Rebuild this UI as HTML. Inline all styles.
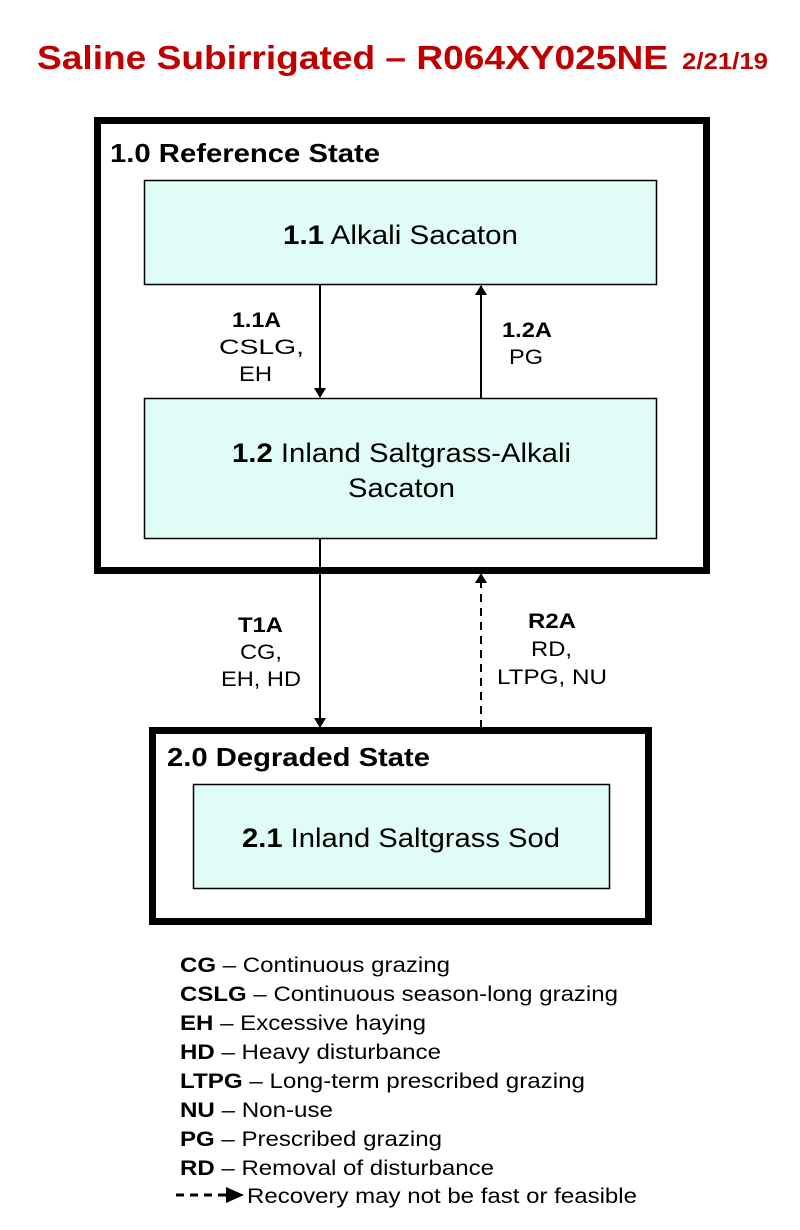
<!DOCTYPE html>
<html><head><style>
html,body{margin:0;padding:0;background:#fff;}
svg{display:block;}
text{font-family:"Liberation Sans",Arial,sans-serif;fill:#000;}
</style></head><body>
<svg width="800" height="1230" viewBox="0 0 800 1230" xmlns="http://www.w3.org/2000/svg">
<defs>
<marker id="ah" markerWidth="10" markerHeight="12" refX="9" refY="6" orient="auto" markerUnits="userSpaceOnUse">
<path d="M0,0 L10,6 L0,12 Z" fill="#000"/></marker>
</defs>
<text x="37" y="69" font-weight="bold" font-size="33" style="fill:#c00000" textLength="631" lengthAdjust="spacingAndGlyphs">Saline Subirrigated – R064XY025NE</text>
<text x="682" y="69" font-weight="bold" font-size="23" style="fill:#c00000" textLength="86" lengthAdjust="spacingAndGlyphs">2/21/19</text>

<rect x="97.5" y="120.5" width="609" height="450" fill="none" stroke="#000" stroke-width="7"/>
<text x="110" y="162" font-size="26" font-weight="bold" textLength="270" lengthAdjust="spacingAndGlyphs">1.0 Reference State</text>
<rect x="144.5" y="180.5" width="512" height="104" fill="#e0fcf6" stroke="#000" stroke-width="1.5"/>
<text x="283" y="244" font-size="27" textLength="235" lengthAdjust="spacingAndGlyphs"><tspan font-weight="bold">1.1</tspan> Alkali Sacaton</text>
<rect x="144.5" y="398.5" width="512" height="140" fill="#e0fcf6" stroke="#000" stroke-width="1.5"/>
<text x="232" y="462" font-size="27" textLength="339" lengthAdjust="spacingAndGlyphs"><tspan font-weight="bold">1.2</tspan> Inland Saltgrass-Alkali</text>
<text x="348" y="497" font-size="27" textLength="107" lengthAdjust="spacingAndGlyphs">Sacaton</text>

<line x1="320" y1="285" x2="320" y2="397" stroke="#000" stroke-width="2" marker-end="url(#ah)"/>
<line x1="481" y1="398" x2="481" y2="286" stroke="#000" stroke-width="2" marker-end="url(#ah)"/>
<g font-size="21">
<text x="232" y="327" font-weight="bold" textLength="49" lengthAdjust="spacingAndGlyphs">1.1A</text>
<text x="219" y="354" textLength="85" lengthAdjust="spacingAndGlyphs">CSLG,</text>
<text x="239" y="381" textLength="33" lengthAdjust="spacingAndGlyphs">EH</text>
<text x="502" y="337" font-weight="bold" textLength="50" lengthAdjust="spacingAndGlyphs">1.2A</text>
<text x="509" y="364" textLength="34" lengthAdjust="spacingAndGlyphs">PG</text>
<text x="238" y="632" font-weight="bold" textLength="45" lengthAdjust="spacingAndGlyphs">T1A</text>
<text x="240" y="659" textLength="42" lengthAdjust="spacingAndGlyphs">CG,</text>
<text x="221" y="686" textLength="80" lengthAdjust="spacingAndGlyphs">EH, HD</text>
<text x="528" y="628" font-weight="bold" textLength="48" lengthAdjust="spacingAndGlyphs">R2A</text>
<text x="531" y="656" textLength="41" lengthAdjust="spacingAndGlyphs">RD,</text>
<text x="497" y="684" textLength="110" lengthAdjust="spacingAndGlyphs">LTPG, NU</text>
</g>

<line x1="320" y1="539" x2="320" y2="727" stroke="#000" stroke-width="2" marker-end="url(#ah)"/>
<line x1="481" y1="728" x2="481" y2="574" stroke="#000" stroke-width="2" stroke-dasharray="8,6" marker-end="url(#ah)"/>

<rect x="152.5" y="730.5" width="496" height="191" fill="none" stroke="#000" stroke-width="7"/>
<text x="167" y="766" font-size="26" font-weight="bold" textLength="263" lengthAdjust="spacingAndGlyphs">2.0 Degraded State</text>
<rect x="193.5" y="784.5" width="416" height="104" fill="#e0fcf6" stroke="#000" stroke-width="1.5"/>
<text x="242" y="847" font-size="27" textLength="318" lengthAdjust="spacingAndGlyphs"><tspan font-weight="bold">2.1</tspan> Inland Saltgrass Sod</text>

<g font-size="21">
<text x="180" y="972" textLength="270" lengthAdjust="spacingAndGlyphs"><tspan font-weight="bold">CG</tspan> – Continuous grazing</text>
<text x="180" y="1001" textLength="438" lengthAdjust="spacingAndGlyphs"><tspan font-weight="bold">CSLG</tspan> – Continuous season-long grazing</text>
<text x="180" y="1030" textLength="246" lengthAdjust="spacingAndGlyphs"><tspan font-weight="bold">EH</tspan> – Excessive haying</text>
<text x="180" y="1059" textLength="261" lengthAdjust="spacingAndGlyphs"><tspan font-weight="bold">HD</tspan> – Heavy disturbance</text>
<text x="180" y="1088" textLength="405" lengthAdjust="spacingAndGlyphs"><tspan font-weight="bold">LTPG</tspan> – Long-term prescribed grazing</text>
<text x="180" y="1117" textLength="153" lengthAdjust="spacingAndGlyphs"><tspan font-weight="bold">NU</tspan> – Non-use</text>
<text x="180" y="1146" textLength="262" lengthAdjust="spacingAndGlyphs"><tspan font-weight="bold">PG</tspan> – Prescribed grazing</text>
<text x="180" y="1175" textLength="314" lengthAdjust="spacingAndGlyphs"><tspan font-weight="bold">RD</tspan> – Removal of disturbance</text>
<text x="247" y="1203" textLength="390" lengthAdjust="spacingAndGlyphs">Recovery may not be fast or feasible</text>
</g>
<line x1="176" y1="1195" x2="230" y2="1195" stroke="#000" stroke-width="3" stroke-dasharray="8,6"/>
<path d="M226,1187 L244,1195 L226,1203 Z" fill="#000"/>
</svg>
</body></html>
